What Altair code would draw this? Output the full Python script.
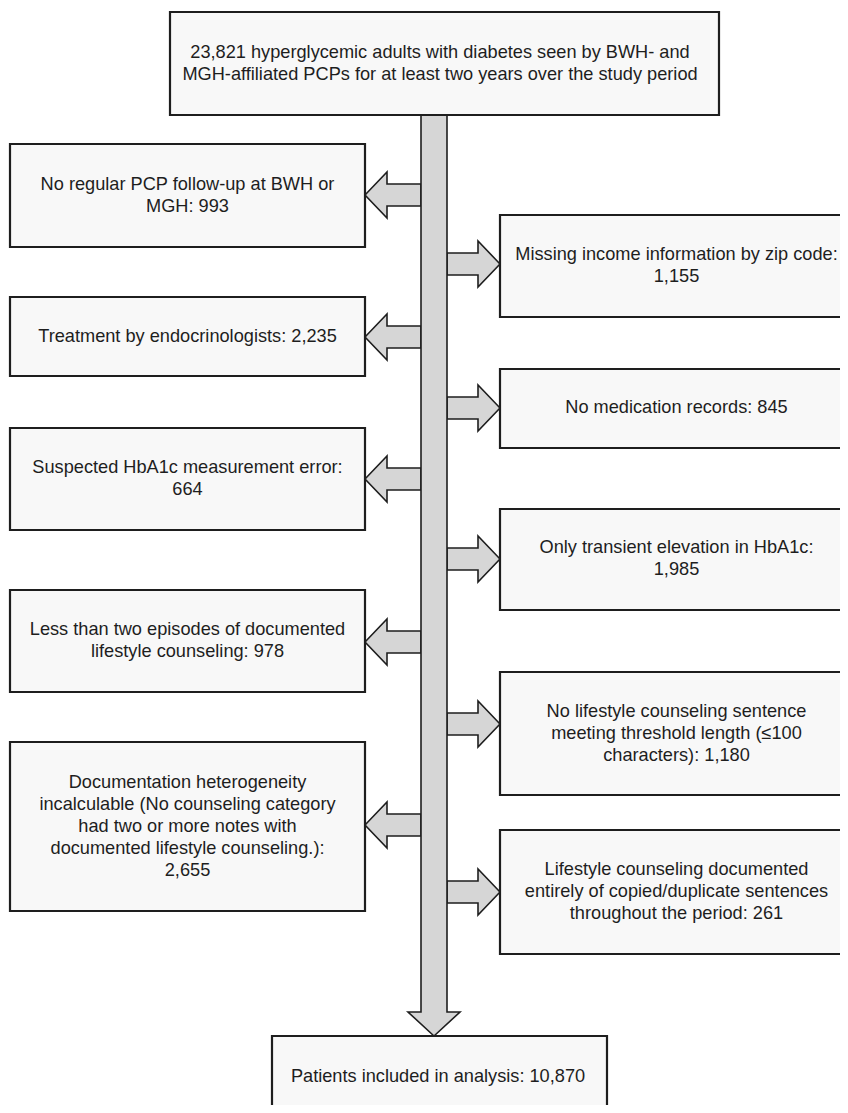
import altair as alt
import pandas as pd

# ---------------- content ----------------
top_lines = [
    "23,821 hyperglycemic adults with diabetes seen by BWH- and",
    "MGH-affiliated PCPs for at least two years over the study period",
]
left_labels = [
    ["No regular PCP follow-up at BWH or", "MGH: 993"],
    ["Treatment by endocrinologists: 2,235"],
    ["Suspected HbA1c measurement error:", "664"],
    ["Less than two episodes of documented", "lifestyle counseling: 978"],
    ["Documentation heterogeneity", "incalculable (No counseling category",
     "had two or more notes with", "documented lifestyle counseling.):", "2,655"],
]
right_labels = [
    ["Missing income information by zip code:", "1,155"],
    ["No medication records: 845"],
    ["Only transient elevation in HbA1c:", "1,985"],
    ["No lifestyle counseling sentence", "meeting threshold length (\u2264100",
     "characters): 1,180"],
    ["Lifestyle counseling documented", "entirely of copied/duplicate sentences",
     "throughout the period: 261"],
]
final_lines = ["Patients included in analysis: 10,870"]

# ---------------- layout (page pixel space) ----------------
TOP_BOX = (170, 719, 12, 115)
FINAL_BOX = (272, 607, 1036, 1125)
LEFT_X = (10, 365)
LEFT_TOPS = [144, 297, 428, 590, 742]
LEFT_BOTTOMS = [247, 376, 530, 692, 911]
LEFT_ARROW_Y = [195, 337, 479, 642, 825]
RIGHT_X = (500, 860)
RIGHT_TOPS = [215, 369, 509, 672, 830]
RIGHT_BOTTOMS = [317, 448, 610, 795, 954]
RIGHT_ARROW_Y = [264, 408, 559, 724, 892]
RIGHT_TEXT_Y = [266, 408, 559, 734, 892]
RIGHT_TEXT_X = 676.5
SHAFT_X = (421, 447)
HEAD_X = (408, 460)
HEAD_BASE_Y, HEAD_TIP_Y = 1012, 1036
SHAFT_HALF, HEAD_HALF = 11, 23
LEFT_HEAD_BASE, LEFT_TIP = 387, 365
RIGHT_HEAD_BASE, RIGHT_TIP = 478, 500
LINE_H = 22

# ---------------- tables ----------------
boxes, texts = [], []


def add_box(x0, x1, y0, y1, lines, cx=None, cy=None):
    boxes.append(dict(x=x0, x2=x1, y=y0, y2=y1))
    cx = (x0 + x1) / 2 if cx is None else cx
    cy = (y0 + y1) / 2 if cy is None else cy
    texts.append(dict(x=cx, y=cy - (len(lines) - 1) * LINE_H / 2,
                      label="\n".join(lines)))


add_box(*TOP_BOX, top_lines, cx=440)
for lab, t, b in zip(left_labels, LEFT_TOPS, LEFT_BOTTOMS):
    add_box(LEFT_X[0], LEFT_X[1], t, b, lab)
for lab, t, b, ty in zip(right_labels, RIGHT_TOPS, RIGHT_BOTTOMS, RIGHT_TEXT_Y):
    add_box(RIGHT_X[0], RIGHT_X[1], t, b, lab, cx=RIGHT_TEXT_X, cy=ty)
add_box(*FINAL_BOX, final_lines, cx=438, cy=1077)
boxes_df = pd.DataFrame(boxes)
texts_df = pd.DataFrame(texts)


def symbol_from_polygon(poly):
    """Return (cx, cy, size, svg path) for a polygon given in page pixels."""
    xs_ = [p[0] for p in poly]
    ys_ = [p[1] for p in poly]
    cx = (min(xs_) + max(xs_)) / 2
    cy = (min(ys_) + max(ys_)) / 2
    r = max(max(xs_) - min(xs_), max(ys_) - min(ys_)) / 2
    path = "M" + " L".join(f"{(x - cx) / r:.5f},{(y - cy) / r:.5f}" for x, y in poly) + " Z"
    return cx, cy, (2 * r) ** 2, path


arrows = []
for c in LEFT_ARROW_Y:
    poly = [(LEFT_TIP, c), (LEFT_HEAD_BASE, c - HEAD_HALF), (LEFT_HEAD_BASE, c - SHAFT_HALF),
            (SHAFT_X[0], c - SHAFT_HALF), (SHAFT_X[0], c + SHAFT_HALF),
            (LEFT_HEAD_BASE, c + SHAFT_HALF), (LEFT_HEAD_BASE, c + HEAD_HALF)]
    arrows.append(symbol_from_polygon(poly))
for c in RIGHT_ARROW_Y:
    poly = [(RIGHT_TIP, c), (RIGHT_HEAD_BASE, c - HEAD_HALF), (RIGHT_HEAD_BASE, c - SHAFT_HALF),
            (SHAFT_X[1], c - SHAFT_HALF), (SHAFT_X[1], c + SHAFT_HALF),
            (RIGHT_HEAD_BASE, c + SHAFT_HALF), (RIGHT_HEAD_BASE, c + HEAD_HALF)]
    arrows.append(symbol_from_polygon(poly))
mid = (SHAFT_X[0] + SHAFT_X[1]) / 2
down_poly = [(mid, HEAD_TIP_Y), (HEAD_X[0], HEAD_BASE_Y), (SHAFT_X[0], HEAD_BASE_Y),
             (SHAFT_X[0], TOP_BOX[3]), (SHAFT_X[1], TOP_BOX[3]),
             (SHAFT_X[1], HEAD_BASE_Y), (HEAD_X[1], HEAD_BASE_Y)]
arrows.append(symbol_from_polygon(down_poly))

# ---------------- scales ----------------
W, H = 832, 1097
xs = alt.Scale(domain=[8, 8 + W], nice=False, zero=False)
ys = alt.Scale(domain=[8, 8 + H], nice=False, zero=False, reverse=True)

ARROW_FILL = "#d6d6d6"
INK = "#1e1e1e"

arrow_layers = []
for cx, cy, size, path in arrows:
    df = pd.DataFrame([dict(x=cx, y=cy)])
    arrow_layers.append(
        alt.Chart(df).mark_point(
            shape=path, size=size, filled=True, fill=ARROW_FILL, stroke=INK,
            strokeWidth=1.6, strokeJoin="miter", opacity=1, fillOpacity=1,
            strokeOpacity=1
        ).encode(
            x=alt.X("x:Q", scale=xs, axis=None),
            y=alt.Y("y:Q", scale=ys, axis=None),
        )
    )

rects = alt.Chart(boxes_df).mark_rect(
    fill="#f8f8f8", stroke=INK, strokeWidth=2.2
).encode(
    x=alt.X("x:Q", scale=xs, axis=None), x2="x2",
    y=alt.Y("y:Q", scale=ys, axis=None), y2="y2",
)

labels = alt.Chart(texts_df).mark_text(
    font="Liberation Sans", fontSize=18.2, color="#1e1e1e", lineBreak="\n",
    lineHeight=LINE_H, align="center", baseline="middle"
).encode(
    x=alt.X("x:Q", scale=xs, axis=None),
    y=alt.Y("y:Q", scale=ys, axis=None),
    text="label:N",
)

chart = alt.layer(*arrow_layers, rects, labels).properties(
    width=W, height=H, padding=0,
    autosize=alt.AutoSizeParams(type="none"),
).configure_view(stroke=None)

chart.save("out.html", embed_options={"renderer": "svg", "actions": False})
